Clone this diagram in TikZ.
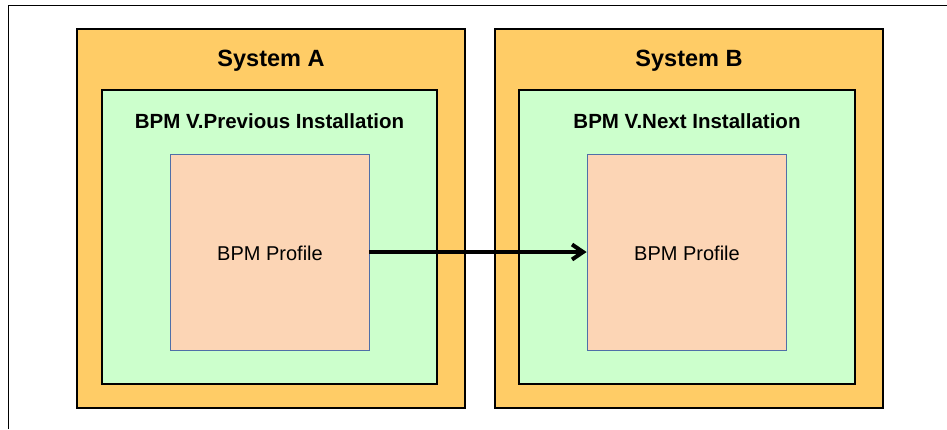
\documentclass[tikz,border=0pt]{standalone}
\usepackage{fontspec}
\setmainfont{Liberation Sans}
\usetikzlibrary{arrows.meta}
\definecolor{sysorange}{HTML}{FFCC66}
\definecolor{instgreen}{HTML}{CCFFCC}
\definecolor{profpeach}{HTML}{FCD5B5}
\definecolor{profedge}{HTML}{4F6FA8}
\begin{document}
\begin{tikzpicture}[x=1pt,y=-1pt,
  sysbox/.style={draw=black,fill=sysorange,line width=1.1pt},
  instbox/.style={draw=black,fill=instgreen,line width=1.1pt},
  profbox/.style={draw=profedge,fill=profpeach,line width=0.8pt},
  systitle/.style={font=\fontsize{23.5}{28}\selectfont\bfseries},
  insttitle/.style={font=\fontsize{20.5}{24}\selectfont\bfseries},
  proftext/.style={font=\fontsize{20}{24}\selectfont},
  flow/.style={line width=4pt,-{Straight Barb[length=11pt,width=15pt,line width=4pt]}}]
\useasboundingbox (0,0) rectangle (947,429);
% outer frame
\draw[line width=0.8pt] (8,429) -- (8,5) -- (947,5);
% System A
\path[sysbox] (77,29) rectangle (465,408);
\path[instbox] (102,90) rectangle (437,384);
\node[profbox,minimum width=199pt,minimum height=196pt,inner sep=0pt] (pa) at (269.5,252) {};
\node[systitle] (ta) at (271,61) {System A};
\node[insttitle] (ia) at (269.5,121) {BPM V.Previous Installation};
\node[proftext] (la) at (270,253) {BPM Profile};
% System B
\path[sysbox] (495,29) rectangle (883,408);
\node[instbox,minimum width=336pt,minimum height=294pt,inner sep=0pt] (gb) at (687,237) {};
\node[profbox,minimum width=199pt,minimum height=196pt,inner sep=0pt] (pb) at (686.5,252) {};
\node[systitle] (tb) at (689,61) {System B};
\node[insttitle] (ib) at (687,121) {BPM V.Next Installation};
\node[proftext] (lb) at (687,253) {BPM Profile};
% arrow
\draw[flow] (pa.east) -- (pb.west);
\end{tikzpicture}
\end{document}
